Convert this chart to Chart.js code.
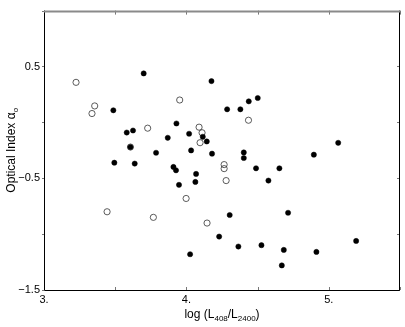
<!DOCTYPE html>
<html>
<head>
<meta charset="utf-8">
<script src="https://cdn.jsdelivr.net/npm/chart.js@4.4.0/dist/chart.umd.min.js"></script>
<style>
  html, body { margin: 0; padding: 0; background: #fff; }
  #wrap { width: 405px; height: 327px; }
</style>
</head>
<body>
<div id="wrap"><canvas id="chart"></canvas></div>
<script>
// filled circles
const filledX = [3.700, 4.176, 3.487, 4.286, 4.379, 4.438, 4.501, 3.930, 3.581, 3.625, 3.607,
  3.869, 4.019, 4.115, 4.143, 4.033, 3.787, 4.180, 3.494, 3.637, 3.909, 3.927, 4.068, 4.063,
  3.948, 4.403, 4.403, 4.489, 4.653, 4.576, 4.895, 5.066, 4.304, 4.714, 4.230, 4.365, 4.527,
  4.684, 4.913, 5.192, 4.026, 4.670];
const filledY = [0.438, 0.369, 0.108, 0.117, 0.117, 0.188, 0.218, -0.010, -0.091, -0.073, -0.221,
  -0.138, -0.102, -0.129, -0.171, -0.251, -0.272, -0.280, -0.361, -0.369, -0.399, -0.429, -0.461, -0.533,
  -0.559, -0.269, -0.319, -0.411, -0.411, -0.521, -0.289, -0.183, -0.829, -0.809, -1.022, -1.111, -1.099,
  -1.141, -1.159, -1.061, -1.180, -1.280];

// open circles
const openX = [3.225, 3.356, 3.337, 3.953, 4.436, 3.728, 4.089, 4.110, 4.096, 3.607,
  4.265, 4.265, 4.279, 3.998, 3.443, 3.768, 4.145];
const openY = [0.358, 0.147, 0.079, 0.200, 0.019, -0.052, -0.043, -0.093, -0.182, -0.221,
  -0.378, -0.414, -0.521, -0.681, -0.800, -0.850, -0.901];

const xLabels = { '3': '3.', '4': '4.', '5': '5.' };
const yLabels = { '0.5': '0.5', '-0.5': '\u22120.5', '-1.5': '\u22121.5' };

const FONT = 'Liberation Sans, Arial, Helvetica, sans-serif';

function toPoints(xs, ys) {
  return xs.map((x, i) => ({ x: x, y: ys[i] }));
}

// frame, inward ticks and axis titles with subscripts
const framePlugin = {
  id: 'frame',
  afterDraw(chart) {
    const ctx = chart.ctx;
    const a = chart.chartArea;
    const xs = chart.scales.x;
    const ys = chart.scales.y;
    ctx.save();

    // ticks
    ctx.strokeStyle = '#777';
    ctx.lineWidth = 1;
    ctx.beginPath();
    xs.ticks.forEach(t => {
      const px = Math.round(xs.getPixelForValue(t.value)) + 0.5;
      ctx.moveTo(px, a.bottom); ctx.lineTo(px, a.bottom - 3);
      ctx.moveTo(px, a.top); ctx.lineTo(px, a.top + 4);
    });
    ys.ticks.forEach(t => {
      const py = Math.round(ys.getPixelForValue(t.value)) + 0.5;
      ctx.moveTo(a.left, py); ctx.lineTo(a.left - 2, py);
      ctx.moveTo(a.right, py); ctx.lineTo(a.right - 3, py);
    });
    ctx.stroke();

    // box
    ctx.strokeStyle = '#000';
    ctx.lineWidth = 1;
    ctx.beginPath();
    ctx.moveTo(a.left + 0.5, a.top);
    ctx.lineTo(a.left + 0.5, a.bottom + 0.5);
    ctx.lineTo(a.right - 0.5, a.bottom + 0.5);
    ctx.lineTo(a.right - 0.5, a.top);
    ctx.stroke();
    ctx.strokeStyle = '#8a8a8a';
    ctx.lineWidth = 2;
    ctx.beginPath();
    ctx.moveTo(a.left, a.top + 1);
    ctx.lineTo(a.right, a.top + 1);
    ctx.stroke();

    // x title: log (L408/L2400)
    ctx.fillStyle = '#000';
    ctx.textBaseline = 'alphabetic';
    const big = '12px ' + FONT, small = '8px ' + FONT;
    const parts = [['log (L', big, 0], ['408', small, 3], ['/L', big, 0], ['2400', small, 3], [')', big, 0]];
    let w = 0;
    parts.forEach(p => { ctx.font = p[1]; w += ctx.measureText(p[0]).width; });
    let cx = (a.left + a.right) / 2 - w / 2;
    parts.forEach(p => {
      ctx.font = p[1];
      ctx.fillText(p[0], cx, 318 + p[2]);
      cx += ctx.measureText(p[0]).width;
    });

    // y title: Optical Index alpha_o
    ctx.translate(15, (a.top + a.bottom) / 2);
    ctx.rotate(-Math.PI / 2);
    const yparts = [['Optical Index \u03b1', big, 0], ['o', small, 3]];
    w = 0;
    yparts.forEach(p => { ctx.font = p[1]; w += ctx.measureText(p[0]).width; });
    cx = -w / 2;
    yparts.forEach(p => {
      ctx.font = p[1];
      ctx.fillText(p[0], cx, p[2]);
      cx += ctx.measureText(p[0]).width;
    });
    ctx.restore();
  }
};

new Chart(document.getElementById('chart'), {
  type: 'scatter',
  data: {
    datasets: [
      {
        label: 'filled',
        data: toPoints(filledX, filledY),
        pointRadius: 2.6,
        pointBackgroundColor: '#000',
        pointBorderColor: '#000',
        pointBorderWidth: 0.5
      },
      {
        label: 'open',
        data: toPoints(openX, openY),
        pointRadius: 3.1,
        pointBackgroundColor: 'rgba(0,0,0,0)',
        pointBorderColor: '#333',
        pointBorderWidth: 0.8
      }
    ]
  },
  options: {
    responsive: true,
    maintainAspectRatio: false,
    animation: false,
    layout: { padding: { top: 8, right: 5, left: 0, bottom: 0 } },
    plugins: {
      legend: { display: false },
      tooltip: { enabled: false }
    },
    scales: {
      x: {
        type: 'linear',
        min: 3, max: 5.5,
        grid: { display: false, drawTicks: false },
        border: { display: false },
        ticks: {
          stepSize: 0.5,
          padding: 3,
          maxRotation: 0,
          autoSkip: false,
          color: '#000',
          font: { family: FONT, size: 11 },
          callback: v => xLabels[String(v)] || ''
        },
        afterFit: s => { s.height = 37; }
      },
      y: {
        type: 'linear',
        min: -1.5, max: 1,
        grid: { display: false, drawTicks: false },
        border: { display: false },
        ticks: {
          stepSize: 0.5,
          padding: 4,
          autoSkip: false,
          color: '#000',
          font: { family: FONT, size: 11 },
          callback: v => yLabels[String(v)] || ''
        },
        afterFit: s => { s.width = 44; }
      }
    }
  },
  plugins: [framePlugin]
});
</script>
</body>
</html>
